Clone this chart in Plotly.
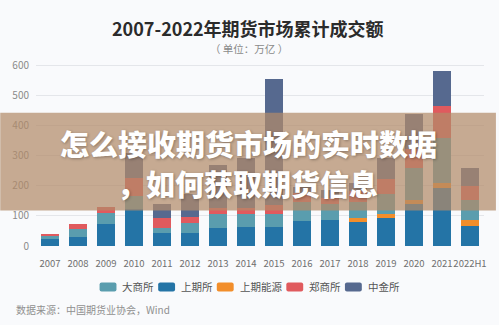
import plotly.graph_objects as go

# Annual turnover by exchange (万亿元)
years = ["2007", "2008", "2009", "2010", "2011", "2012", "2013", "2014",
         "2015", "2016", "2017", "2018", "2019", "2020", "2021", "2022H1"]
shfe = [22.0, 28.6, 73.8, 123.5, 43.5, 44.6, 60.3, 63.1,
        63.6, 84.0, 87.0, 79.0, 93.0, 139.0, 193.0, 66.0]
ine = [0, 0, 0, 0, 0, 0, 0, 0,
       0, 0, 0, 14.0, 13.0, 12.0, 17.0, 21.0]
dce = [12.4, 27.5, 37.2, 41.7, 16.9, 33.1, 47.0, 41.5,
       41.9, 61.2, 52.0, 52.0, 68.0, 109.0, 148.0, 67.0]
czce = [6.0, 15.8, 19.5, 61.7, 33.4, 17.3, 18.9, 23.0,
        31.0, 31.0, 21.4, 38.0, 49.0, 60.0, 105.0, 44.0]
cffex = [0, 0, 0, 82.1, 43.8, 75.8, 141.0, 164.0,
         417.8, 18.2, 24.6, 26.0, 68.0, 117.0, 118.0, 59.0]

y_ticks = [0, 100, 200, 300, 400, 500, 600]

# stacking order, bottom to top
series = [
    ("上期所", shfe, "#2474a6"),
    ("上期能源", ine, "#f28e2b"),
    ("大商所", dce, "#5a9dae"),
    ("郑商所", czce, "#e05a5e"),
    ("中金所", cffex, "#56698f"),
]
# legend order
legend_order = ["大商所", "上期所", "上期能源", "郑商所", "中金所"]
colors = {name: c for name, _, c in series}

W, H = 499, 325
L, R, T, B = 36, 12, 62, 78.5
PW, PH = W - L - R, H - T - B
FONT = "Noto Sans CJK SC, Noto Sans, sans-serif"


def px(x):
    return (x - L) / PW


def py(y):
    return (H - B - y) / PH


fig = go.Figure()
for name, vals, color in series:
    fig.add_trace(go.Bar(x=years, y=vals, name=name, marker_color=color,
                         marker_line_width=0, showlegend=False))

shapes = []
annotations = []

# title and unit
annotations.append(dict(text="2007-2022年期货市场累计成交额", x=px(249.5), y=py(28),
                        xref="paper", yref="paper", showarrow=False,
                        font=dict(size=18, color="#2b2b2b", family=FONT, weight=700),
                        xanchor="center", yanchor="middle"))
annotations.append(dict(text="（ 单位：万亿 ）", x=px(250), y=py(48),
                        xref="paper", yref="paper", showarrow=False,
                        font=dict(size=10.5, color="#8a8a8a", family=FONT),
                        xanchor="center", yanchor="middle"))

# legend drawn as rounded swatches with labels
swatch_x = {"大商所": 100, "上期所": 159, "上期能源": 218, "郑商所": 288, "中金所": 347}
for name in legend_order:
    x0 = swatch_x[name]
    x1 = x0 + 17
    y0, y1 = 283, 292
    r = 2
    path = (f"M {px(x0 + r)},{py(y0)} L {px(x1 - r)},{py(y0)} "
            f"Q {px(x1)},{py(y0)} {px(x1)},{py(y0 + r)} L {px(x1)},{py(y1 - r)} "
            f"Q {px(x1)},{py(y1)} {px(x1 - r)},{py(y1)} L {px(x0 + r)},{py(y1)} "
            f"Q {px(x0)},{py(y1)} {px(x0)},{py(y1 - r)} L {px(x0)},{py(y0 + r)} "
            f"Q {px(x0)},{py(y0)} {px(x0 + r)},{py(y0)} Z")
    shapes.append(dict(type="path", path=path, xref="paper", yref="paper",
                       fillcolor=colors[name], line=dict(width=0), layer="above"))
    annotations.append(dict(text=name, x=px(x1 + 4), y=py(287.5),
                            xref="paper", yref="paper", showarrow=False,
                            font=dict(size=10.5, color="#555555", family=FONT),
                            xanchor="left", yanchor="middle"))

# source note
annotations.append(dict(text="数据来源：中国期货业协会，Wind", x=px(14), y=py(310),
                        xref="paper", yref="paper", showarrow=False,
                        font=dict(size=10, color="#909090", family=FONT),
                        xanchor="left", yanchor="middle"))

# translucent banner with headline
shapes.append(dict(type="rect", xref="paper", yref="paper",
                   x0=px(0), x1=px(W), y0=py(211), y1=py(113),
                   fillcolor="rgba(178,138,106,0.72)", line=dict(width=0),
                   layer="above"))
headline_font = dict(size=29, color="#ffffff", family=FONT, weight=900,
                     shadow="1px 1px 3px rgba(0,0,0,0.30)")
annotations.append(dict(text="怎么接收期货市场的实时数据", x=px(250), y=py(143),
                        xref="paper", yref="paper", showarrow=False,
                        font=headline_font, xanchor="center", yanchor="middle"))
annotations.append(dict(text="，如何获取期货信息", x=px(248.5), y=py(183),
                        xref="paper", yref="paper", showarrow=False,
                        font=headline_font, xanchor="center", yanchor="middle"))

fig.update_layout(
    width=W, height=H,
    margin=dict(l=L, r=R, t=T, b=B, pad=0),
    paper_bgcolor="#f9fafc",
    plot_bgcolor="#f9fafc",
    barmode="stack",
    bargap=0.36,
    showlegend=False,
    font=dict(family=FONT, size=10, color="#7a7a7a"),
    xaxis=dict(type="category", showgrid=False, showline=False, zeroline=False,
               ticks="", tickangle=0, tickfont=dict(size=9.5, color="#6e6e6e"),
               ticklabelstandoff=10),
    yaxis=dict(range=[0, 610], tickvals=y_ticks, showgrid=True,
               gridcolor="#e4e6ea", gridwidth=1, zeroline=False, showline=False,
               ticks="", tickfont=dict(size=10, color="#8a8a8a"),
               ticklabelstandoff=6),
    shapes=shapes,
    annotations=annotations,
)

fig.write_html("out.html", config={"displayModeBar": False})
